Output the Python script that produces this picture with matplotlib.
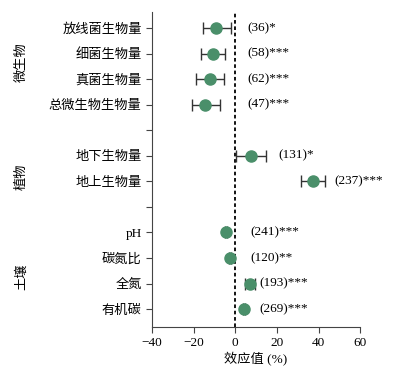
import numpy as np
import matplotlib.pyplot as plt

plt.rcParams['font.family'] = ['Liberation Serif', 'Noto Sans CJK SC']
plt.rcParams['font.size'] = 9.5

# rows from top to bottom; None marks an empty slot between groups
labels = ['放线菌生物量', '细菌生物量', '真菌生物量', '总微生物生物量', None,
          '地下生物量', '地上生物量', None,
          'pH', '碳氮比', '全氮', '有机碳']
effect = [-9.1, -10.9, -12.3, -14.4, None, 7.5, 37.2, None, -4.6, -2.4, 7.2, 4.2]
ci_low = [-15.5, -16.5, -18.9, -20.8, None, 0.5, 31.6, None, -5.0, -2.8, 4.8, 3.8]
ci_high = [-2.0, -4.8, -5.3, -7.2, None, 14.7, 42.9, None, -4.2, -2.0, 9.6, 4.6]
notes = ['(36)*', '(58)***', '(62)***', '(47)***', None,
         '(131)*', '(237)***', None,
         '(241)***', '(120)**', '(193)***', '(269)***']
note_x = [5.6, 5.6, 5.6, 5.6, None, 20.5, 47.6, None, 7.2, 7.2, 11.4, 11.4]
groups = ['微生物', '植物', '土壤']
group_y = [10.67, 6.17, 2.25]

n = len(labels)
ypos = np.arange(n, 0, -1)

fig = plt.figure(figsize=(3.94, 3.72), dpi=100)
ax = fig.add_axes([0.386, 0.121, 0.528, 0.847])

green = '#4a8f6a'
for y, e, lo, hi, t, tx in zip(ypos, effect, ci_low, ci_high, notes, note_x):
    if e is None:
        continue
    ax.errorbar(e, y, xerr=[[e - lo], [hi - e]], fmt='o', color=green,
                ms=8, ecolor='#333333', elinewidth=1, capsize=4, capthick=1, zorder=3)
    ax.text(tx, y, t, va='center', ha='left', fontsize=9.5)

ax.axvline(0, color='black', linestyle=(0, (2, 1.5)), linewidth=1.3, zorder=2)

ax.set_xlim(-40, 60)
ax.set_ylim(0.3, n + 0.63)
ax.set_xticks([-40, -20, 0, 20, 40, 60])
ax.set_xticklabels(['\u221240', '\u221220', '0', '20', '40', '60'])
ax.set_yticks(ypos)
ax.set_yticklabels([l if l else '' for l in labels])
ax.set_xlabel('效应值 (%)', labelpad=2)

for s in ['top', 'right']:
    ax.spines[s].set_visible(False)
for s in ['left', 'bottom']:
    ax.spines[s].set_color('#444444')
ax.tick_params(direction='out', length=4, color='#444444')

for g, gy in zip(groups, group_y):
    ax.text(-0.625, gy, g, rotation=90, va='center', ha='center',
            transform=ax.get_yaxis_transform())

fig.savefig('out.png', dpi=100)
